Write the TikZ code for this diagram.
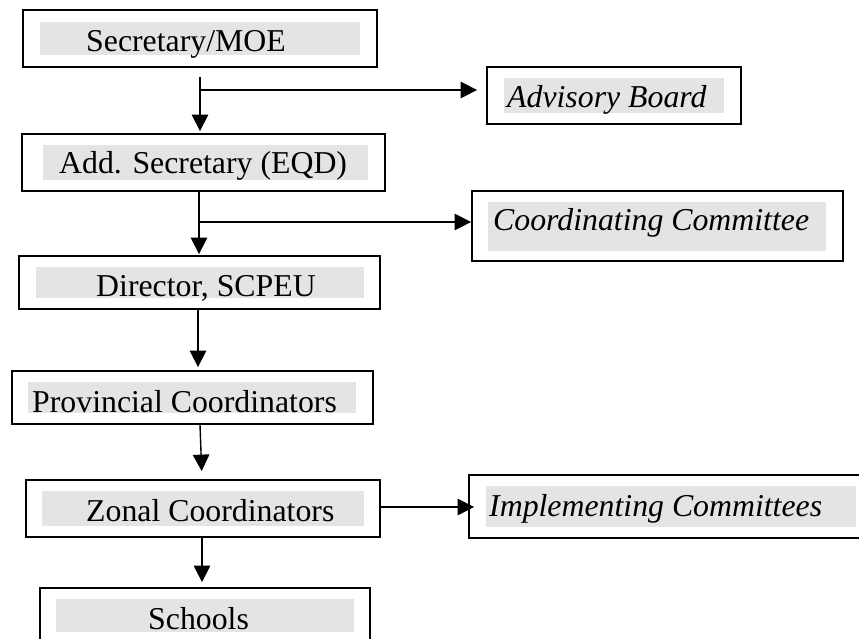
\documentclass[tikz,border=0pt]{standalone}
\usepackage{fontspec}
\setmainfont{Liberation Serif}
\usetikzlibrary{arrows.meta}
\definecolor{shadegray}{HTML}{E4E4E4}
\tikzset{
  box/.style={draw=black, line width=1.8pt, rectangle, inner sep=0pt},
  shadefill/.style={fill=shadegray},
  lbl/.style={inner sep=0pt, anchor=base west, font=\fontsize{31.8}{36}\selectfont},
  ilbl/.style={lbl, font=\fontsize{31.8}{36}\selectfont\itshape},
  arr/.style={line width=1.4pt, -{Triangle[length=16.5pt,width=16.5pt]}},
  ln/.style={line width=1.4pt}
}
\begin{document}
\begin{tikzpicture}[x=1pt,y=-1pt]
\useasboundingbox (0,0) rectangle (859,638);
\begin{scope}
\clip (0,0) rectangle (859,638);
% boxes
\node[box, minimum width=354pt, minimum height=57pt] (sec) at (200,38.5) {};
\node[box, minimum width=254pt, minimum height=57pt] (adv) at (614,95.5) {};
\node[box, minimum width=363pt, minimum height=57pt] (add) at (203.5,162.5) {};
\node[box, minimum width=371pt, minimum height=70pt] (coo) at (657.5,226) {};
\node[box, minimum width=361pt, minimum height=53pt] (dir) at (199.5,282.5) {};
\node[box, minimum width=361pt, minimum height=53pt] (pro) at (192.5,397.5) {};
\node[box, minimum width=354pt, minimum height=57pt] (zon) at (203,508.5) {};
\node[box, minimum width=411pt, minimum height=63pt] (imp) at (674.5,506.5) {};
\node[box, minimum width=330pt, minimum height=62pt] (sch) at (205,619) {};
% gray fills
\fill[shadefill] (40,22) rectangle (360,55);
\fill[shadefill] (504,78) rectangle (724,113);
\fill[shadefill] (43,145) rectangle (368,180);
\fill[shadefill] (488,202) rectangle (826,251);
\fill[shadefill] (36,267) rectangle (364,298);
\fill[shadefill] (28,382) rectangle (356,413);
\fill[shadefill] (42,491) rectangle (364,526);
\fill[shadefill] (486,486) rectangle (856,527);
\fill[shadefill] (56,599) rectangle (354,632);
% texts
\node[lbl] (secT) at (86,51) {Secretary/MOE};
\node[ilbl] (advT) at (507,107) {Advisory Board};
\node[lbl] (addT) at (59,173) {Add. Secretary (EQD)};
\node[ilbl] (cooT) at (493,230) {Coordinating Committee};
\node[lbl] (dirT) at (96,296) {Director, SCPEU};
\node[lbl] (proT) at (32,412) {Provincial Coordinators};
\node[lbl] (zonT) at (86,521) {Zonal Coordinators};
\node[ilbl] (impT) at (489,516) {Implementing Committees};
\node[lbl] (schT) at (148,629) {Schools};
% connectors
\coordinate (s1) at (200,77);
\coordinate (b1) at (200,90);
\coordinate (s2) at (199,191);
\coordinate (b2) at (199,222);
\draw[arr, shorten >=2pt] (s1) -- (s1 |- add.north);
\draw[arr, shorten >=9pt] (b1) -- (b1 -| adv.west);
\draw[arr, shorten >=1pt] (s2) -- (s2 |- dir.north);
\draw[arr, shorten >=0pt] (b2) -- (b2 -| coo.west);
\draw[arr, shorten >=3pt] (dir.south -| 198,0) -- (pro.north -| 198,0);
\draw[arr, shorten >=8pt] (pro.south -| 200,0) -- (zon.north -| 202,0);
\draw[arr, shorten >=-6pt] (zon.east |- 0,507) -- (imp.west |- 0,507);
\draw[arr, shorten >=5pt] ([yshift=2pt]zon.south -| 202,0) -- (sch.north -| 202,0);
\end{scope}
\end{tikzpicture}
\end{document}
